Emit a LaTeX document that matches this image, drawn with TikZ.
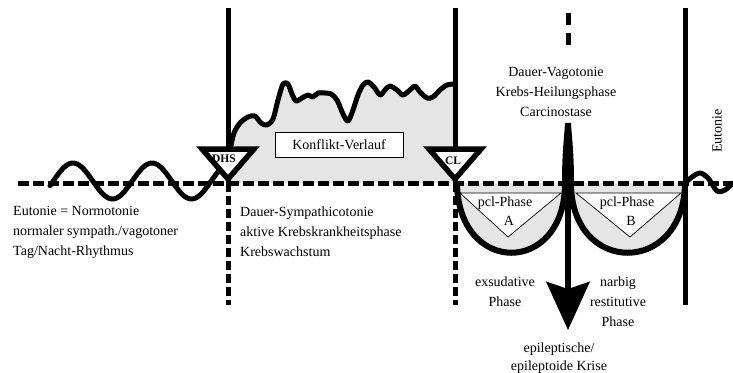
\documentclass[tikz,border=0pt]{standalone}
\usepackage{fontspec}
\setmainfont{Liberation Serif}
\usetikzlibrary{calc,positioning,arrows.meta}
\definecolor{phasegray}{gray}{0.9}
\tikzstyle{nullline} = [line width=5pt, dash pattern=on 11pt off 4pt]
\tikzstyle{split} = [line width=5pt, dash pattern=on 9pt off 4pt]
\tikzstyle{wall} = [line width=5pt]
\tikzstyle{wave} = [line width=5pt, line join=round, line cap=round]
\tikzstyle{bowl} = [line width=6pt]
\tikzstyle{signal} = [draw, line width=5.5pt, fill=white, line join=miter]
\tikzstyle{wedge} = [draw, line width=0.7pt, fill=white]
\tikzstyle{phasetext} = [font=\fontsize{14}{20}\selectfont, inner sep=0pt, align=center]
\tikzstyle{tag} = [font=\fontsize{11.5}{12}\selectfont\bfseries, inner sep=0pt]
\tikzstyle{box} = [draw, line width=0.8pt, fill=white, font=\fontsize{14}{20}\selectfont,
    minimum width=128pt, minimum height=25pt, inner sep=0pt]
\tikzstyle{crisis} = [line width=6pt, -{Stealth[length=48pt, width=43pt, inset=7pt]}]
\begin{document}
\begin{tikzpicture}[x=1pt, y=-1pt]
        \useasboundingbox (0,0) rectangle (733,372);
        % Place coordinates
        \coordinate (dhsTop) at (228,8);
        \coordinate (dhs) at (228,183);
        \coordinate (dhsEnd) at (228,305);
        \coordinate (clTop) at (455,8);
        \coordinate (cl) at (455,183);
        \coordinate (clEnd) at (455,305);
        \coordinate (euTop) at (685,8);
        \coordinate (eu) at (685,183);
        \coordinate (euEnd) at (685,305);
        \coordinate (axisStart) at (18,183);
        \coordinate (axisEnd) at (733,183);
        \coordinate (vagoTop) at (568,13);
        \coordinate (vagoDash) at (568,45);
        \coordinate (cusp) at (568,123);
        \coordinate (krise) at (568,330);
        % Grey areas
        \fill[phasegray] (dhs) -- (228,150) -- plot[smooth] coordinates {(230,150) (234,133) (240,123) (248,117) (255,116) (261,123) (267,125) (273,119) (278,100) (283,84) (288,84) (292,94) (296,101) (302,98) (308,95) (313,97) (318,93) (325,93) (331,94) (337,100) (343,114) (348,121) (353,110) (358,95) (363,85) (368,82) (374,87) (380,95) (385,90) (390,86) (397,90) (403,95) (410,90) (415,86) (420,92) (427,98) (433,97) (440,90) (447,85) (455,84)} -- (cl) -- cycle;
        \fill[phasegray] (457,183) .. controls (458,276) and (565,276) .. (566,183) -- cycle;
        \fill[phasegray] (570,183) .. controls (571,276) and (684,276) .. (685,183) -- cycle;
        \draw[wedge] (460,193) -- (561,193) -- (508,237) -- cycle;
        \draw[wedge] (576,193) -- (681,193) -- (630,237) -- cycle;
        % Draw lines
        \draw[nullline] (axisStart) -- (axisEnd);
        \draw[wall] (dhsTop) -- (dhs);
        \draw[split] (dhs) -- (dhsEnd);
        \draw[wall] (clTop) -- (cl);
        \draw[split] (cl) -- (clEnd);
        \draw[wall] (euTop) -- (euEnd);
        \draw[split, line width=5pt, dash pattern=on 12pt off 8pt] (vagoTop) -- (vagoDash);
        \draw[wave] plot[smooth] coordinates {(230,150) (234,133) (240,123) (248,117) (255,116) (261,123) (267,125) (273,119) (278,100) (283,84) (288,84) (292,94) (296,101) (302,98) (308,95) (313,97) (318,93) (325,93) (331,94) (337,100) (343,114) (348,121) (353,110) (358,95) (363,85) (368,82) (374,87) (380,95) (385,90) (390,86) (397,90) (403,95) (410,90) (415,86) (420,92) (427,98) (433,97) (440,90) (447,85) (455,84)};
        \draw[wave] plot[domain=50:224, samples=90, smooth] (\x, {181-18*cos(4.557*(\x-73))});
        \draw[wave] plot[smooth] coordinates {(eu) (692,177) (700,173) (708,178) (717,191) (725,190) (733,183)};
        \draw[bowl] (457,183) .. controls (458,276) and (565,276) .. (565,183) .. controls (565,150) and (567.5,135) .. (cusp);
        \draw[bowl] (cusp) .. controls (568.5,135) and (571,150) .. (571,183) .. controls (571,276) and (684,276) .. (eu);
        \draw[crisis] (cusp) -- (krise);
        \draw[signal] ($(dhs)+(-26,-34)$) -- ($(dhs)+(26,-34)$) -- ($(dhs)+(0,-4)$) -- cycle;
        \draw[signal] ($(cl)+(-26,-34)$) -- ($(cl)+(26,-34)$) -- ($(cl)+(0,-4)$) -- cycle;
        % Place nodes
        \node[tag] (dhsTag) at (224,159) {DHS};
        \node[tag] (clTag) at (453,161) {CL};
        \node[box] (konflikt) at (339,145) {Konflikt-Verlauf};
        \node[phasetext, align=left, anchor=west] (eutonieText) at (13,232) {Eutonie = Normotonie\\normaler sympath./vagotoner\\Tag/Nacht-Rhythmus};
        \node[phasetext, align=left, anchor=west] (sympText) at (240,232) {Dauer-Sympathicotonie\\aktive Krebskrankheitsphase\\Krebswachstum};
        \node[phasetext] (vagoText) at (556,92) {Dauer-Vagotonie\\Krebs-Heilungsphase\\Carcinostase};
        \node[phasetext, rotate=90] (eutonieRight) at (717,131) {Eutonie};
        \node[phasetext] (pclA) at (505,203) {pcl-Phase};
        \node[phasetext] (letterA) at (509,221) {A};
        \node[phasetext] (pclB) at (627,203) {pcl-Phase};
        \node[phasetext] (letterB) at (631,221) {B};
        \node[phasetext] (exsText) at (505,292) {exsudative\\Phase};
        \node[phasetext] (narbText) at (618,302) {narbig\\restitutive\\Phase};
        \node[phasetext, font=\fontsize{14}{18}\selectfont] (kriseText) at (559,358) {epileptische/\\epileptoide Krise};
    \end{tikzpicture}
\end{document}
